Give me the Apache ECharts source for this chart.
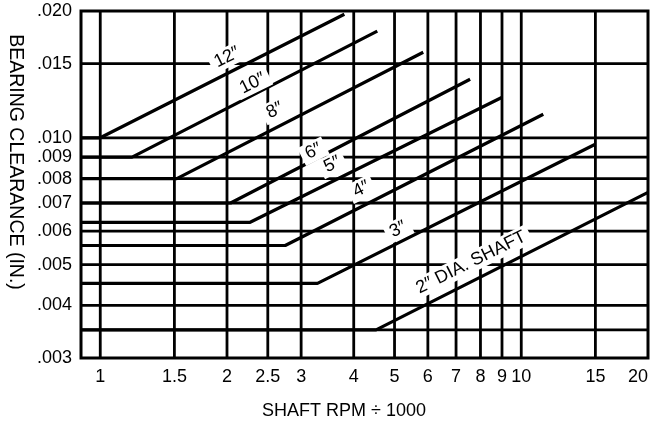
<!DOCTYPE html>
<html>
<head>
<meta charset="utf-8">
<script src="https://cdn.jsdelivr.net/npm/echarts@6/dist/echarts.min.js"></script>
<style>
html,body{margin:0;padding:0;background:#fff;}
#chart{width:653px;height:424px;}
</style>
</head>
<body>
<div id="chart"></div>
<script>
// ---- data ----
const xTicks = [1, 1.5, 2, 2.5, 3, 4, 5, 6, 7, 8, 9, 10, 15, 20];
const xGridValues = [1, 1.5, 2, 2.5, 3, 4, 5, 6, 7, 8, 9, 10, 15];
const yTicks = [0.003, 0.004, 0.005, 0.006, 0.007, 0.008, 0.009, 0.010, 0.015, 0.020];
const yGridValues = [0.0035, 0.004, 0.005, 0.006, 0.007, 0.008, 0.009, 0.010, 0.015];

const sizeLabels = ['12\u2033', '10\u2033', '8\u2033', '6\u2033', '5\u2033', '4\u2033', '3\u2033', '2\u2033 DIA. SHAFT'];

const size12 = [[0.9, 0.010], [1.0, 0.010], [3.80, 0.01965]];
const size10 = [[0.9, 0.009], [1.19, 0.009], [4.55, 0.01791]];
const size8  = [[0.9, 0.008], [1.52, 0.008], [5.85, 0.01596]];
const size6  = [[0.9, 0.007], [2.04, 0.007], [7.56, 0.01377]];
const size5  = [[0.9, 0.0063], [2.27, 0.0063], [9.01, 0.01248]];
const size4  = [[0.9, 0.00555], [2.75, 0.00555], [11.28, 0.01137]];
const size3  = [[0.9, 0.00451], [3.28, 0.00451], [14.99, 0.00965]];
const size2  = [[0.9, 0.0035], [4.52, 0.0035], [20, 0.00742]];

// label anchor points (data space) for each curve label
const labelAnchors = [[2.00, 0.01553], [2.30, 0.01347], [2.60, 0.01162], [3.21, 0.00929],
                      [3.56, 0.00865], [4.17, 0.00755], [5.10, 0.00606], [7.60, 0.00506]];

const X_MIN = 0.9, X_MAX = 20, Y_MIN = 0.003, Y_MAX = 0.020;

// ---- build chart ----
const FONT = 'Liberation Sans, Arial, Helvetica, sans-serif';
const chart = echarts.init(document.getElementById('chart'), null, {renderer: 'canvas'});
const series = [];

xGridValues.forEach(v => {
  series.push({
    type: 'line', silent: true, z: 1, symbol: 'none', animation: false,
    lineStyle: {color: '#000', width: 2.8},
    data: [[v, Y_MIN], [v, Y_MAX]]
  });
});
yGridValues.forEach(v => {
  series.push({
    type: 'line', silent: true, z: 1, symbol: 'none', animation: false,
    lineStyle: {color: '#000', width: 2.8},
    data: [[X_MIN, v], [X_MAX, v]]
  });
});

[size12, size10, size8, size6, size5, size4, size3, size2].forEach((d, i) => {
  series.push({
    type: 'line', name: sizeLabels[i], silent: true, z: 2, symbol: 'none', animation: false,
    lineStyle: {color: '#000', width: 3.2},
    data: d
  });
});

series.push({
  type: 'scatter', z: 5, silent: true, animation: false,
  symbolSize: 1, itemStyle: {color: 'transparent', opacity: 1},
  data: labelAnchors.map((p, i) => ({
    value: p,
    label: {
      show: true, formatter: sizeLabels[i], position: 'inside', rotate: 26.5,
      fontFamily: FONT, fontSize: 18, color: '#000', opacity: 1,
      backgroundColor: '#fff', padding: [1, 5]
    }
  }))
});

const option = {
  animation: false,
  backgroundColor: '#fff',
  grid: {left: 81, right: 5, top: 11, bottom: 66, show: true, borderColor: '#000', borderWidth: 3, backgroundColor: 'transparent'},
  xAxis: {
    type: 'log', logBase: 10, min: X_MIN, max: X_MAX,
    axisLine: {show: false}, axisTick: {show: false}, splitLine: {show: false},
    axisLabel: {
      customValues: xTicks, margin: 10, color: '#000', fontFamily: FONT, fontSize: 18,
      alignMaxLabel: 'right', showMinLabel: true, showMaxLabel: true,
      formatter: v => String(v)
    }
  },
  yAxis: {
    type: 'log', logBase: 10, min: Y_MIN, max: Y_MAX,
    axisLine: {show: false}, axisTick: {show: false}, splitLine: {show: false},
    axisLabel: {
      customValues: yTicks, margin: 9, color: '#000', fontFamily: FONT, fontSize: 18,
      showMinLabel: true, showMaxLabel: true,
      formatter: v => Number(v).toFixed(3).replace(/^0/, '')
    }
  },
  graphic: [
    {type: 'text', x: 344, y: 411, z: 10,
     style: {text: 'SHAFT RPM \u00F7 1000', fill: '#000', font: '18px ' + FONT, textAlign: 'center', textVerticalAlign: 'middle'}},
    {type: 'text', x: 15.5, y: 162, rotation: -Math.PI / 2, z: 10,
     style: {text: 'BEARING CLEARANCE (IN.)', fill: '#000', font: '19.5px ' + FONT, textAlign: 'center', textVerticalAlign: 'middle'}}
  ],
  series: series
};
chart.setOption(option);
</script>
</body>
</html>
